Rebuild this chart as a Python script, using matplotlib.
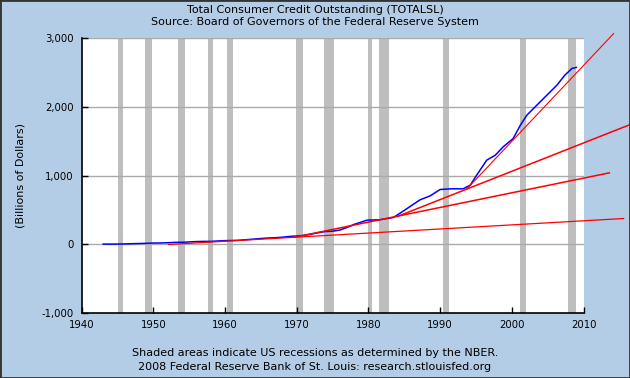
import numpy as np
from matplotlib import pyplot as plt
from matplotlib.patches import Rectangle
from matplotlib.ticker import FuncFormatter

# Total consumer credit outstanding, billions of dollars
years = [1943, 1944, 1945, 1946, 1947, 1948, 1949, 1950, 1951, 1952, 1953, 1954,
         1955, 1956, 1957, 1958, 1959, 1960, 1961, 1962, 1963, 1964, 1965, 1966,
         1967, 1968, 1969, 1970, 1971, 1972, 1973, 1974, 1975, 1976, 1977.0, 1978,
         1979.8, 1981.6, 1983.5, 1985.4, 1987.2, 1988.6, 1990.0, 1991.5, 1993.2,
         1994.2, 1995.1, 1996.5, 1997.7, 1998.8, 2000.2, 2001.2, 2002.1, 2003.5,
         2004.9, 2006.3, 2007.4, 2008.4, 2009.0]
credit = [6, 5, 6, 8, 11, 14, 17, 21, 22, 25, 31, 32,
          37, 42, 45, 45, 51, 56, 58, 62, 70, 78, 87, 94,
          98, 106, 117, 124, 132, 150, 172, 188, 193, 210, 247, 292,
          354, 360, 393, 524, 650, 707, 800, 810, 810,
          863, 1009, 1227, 1300, 1421, 1543, 1737, 1882, 2028,
          2173, 2319, 2464, 2562, 2576]

# NBER recessions (start, end)
rec_start = [1945.0, 1948.85, 1953.45, 1957.55, 1960.25, 1969.85, 1973.8, 1979.95, 1981.45, 1990.45, 2001.15, 2007.9]
rec_end = [1945.8, 1949.85, 1954.45, 1958.35, 1961.15, 1970.9, 1975.25, 1980.55, 1982.9, 1991.25, 2001.95, 2009.0]

# hand-drawn red trend lines (endpoints)
trend_x = [[1952.1, 2015.6], [1969.7, 2013.6], [1984.0, 2017.0], [1993.7, 2014.2]]
trend_y = [[0, 378], [106, 1042], [406, 1765], [805, 3068]]
trend_lw = [0.9, 1.1, 1.1, 0.8]

bg = "#b4cde6"
fig = plt.figure(figsize=(6.3, 3.78), dpi=100, facecolor=bg)
ax = fig.add_axes([0.1297, 0.1714, 0.7965, 0.7273])
ax.set_facecolor("white")

for s, e in zip(rec_start, rec_end):
    ax.axvspan(s, e, color="#bebebe", lw=0, zorder=1)

for yv in [0, 1000, 2000, 3000]:
    ax.axhline(yv, color="#aaaaaa", lw=1, zorder=1.5)

ax.plot(years, credit, color="#0000ff", lw=1.1, zorder=3)

for xs, ys, lw in zip(trend_x, trend_y, trend_lw):
    ax.plot(xs, ys, color="#ff0000", lw=lw, zorder=4, clip_on=False)

ax.set_xlim(1940, 2010)
ax.set_ylim(-1000, 3000)
ax.set_xticks(np.arange(1940, 2011, 10))
ax.set_yticks(np.arange(-1000, 3001, 1000))
ax.yaxis.set_major_formatter(FuncFormatter(lambda v, p: f"{int(v):,}"))
ax.tick_params(direction="in", length=4, width=1, labelsize=7.3, colors="black")
ax.tick_params(axis="y", pad=6)
ax.tick_params(axis="x", pad=5)
for side in ["top", "right"]:
    ax.spines[side].set_visible(False)
for side in ["left", "bottom"]:
    ax.spines[side].set_linewidth(1.2)
    ax.spines[side].set_zorder(5)

fig.text(0.5, 0.973, "Total Consumer Credit Outstanding (TOTALSL)", ha="center", va="center", fontsize=8)
fig.text(0.5, 0.942, "Source: Board of Governors of the Federal Reserve System", ha="center", va="center", fontsize=8)
fig.text(0.032, 0.535, "(Billions of Dollars)", ha="center", va="center", rotation=90, fontsize=8)
fig.text(0.5, 0.066, "Shaded areas indicate US recessions as determined by the NBER.", ha="center", va="center", fontsize=8)
fig.text(0.5, 0.029, "2008 Federal Reserve Bank of St. Louis: research.stlouisfed.org", ha="center", va="center", fontsize=8)

fig.patches.append(Rectangle((0, 0), 1, 1, transform=fig.transFigure, fill=False,
                             ec="#333333", lw=2, zorder=10))

plt.savefig("out.png", dpi=100, facecolor=bg)
